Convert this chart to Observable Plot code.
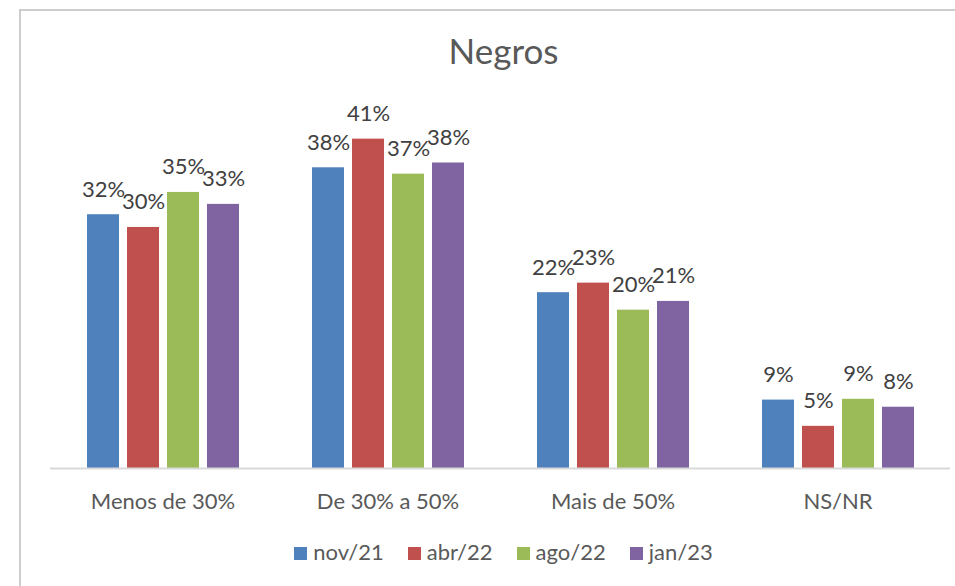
<!DOCTYPE html>
<html><head><meta charset="utf-8">
<script src="https://cdn.jsdelivr.net/npm/d3@7"></script>
<script src="https://cdn.jsdelivr.net/npm/@observablehq/plot@0.6"></script>
<style>
body{margin:0;background:#fff;font-family:Lato,sans-serif;}
#page{position:relative;width:955px;height:586px;overflow:hidden;background:#fff;}
#frame{position:absolute;left:19px;top:9px;width:1000px;height:700px;border:2px solid #cdcdcd;box-sizing:border-box;z-index:5;pointer-events:none;}
#title{position:absolute;left:0;width:1007px;top:33px;text-align:center;font-size:35px;line-height:1;color:#595959;}
#chart{position:absolute;left:0;top:90px;}
#legend{position:absolute;left:0;width:1007px;top:540.5px;display:flex;justify-content:center;gap:24px;font-size:22px;line-height:1;color:#595959;}
#legend .sw{display:inline-block;width:13px;height:13px;margin-right:6px;}
</style>
</head><body>
<div id="page">
  <div id="frame"></div>
  <div id="title">Negros</div>
  <div id="chart"></div>
  <div id="legend"></div>
</div>
<script>
const categories = ["Menos de 30%", "De 30% a 50%", "Mais de 50%", "NS/NR"];
const series = ["nov/21", "abr/22", "ago/22", "jan/23"];
const colors = ["#4F81BD", "#C0504D", "#9BBB59", "#8064A2"];
const nov21 = [31.9, 37.8, 22.1, 8.6];
const abr22 = [30.3, 41.4, 23.3, 5.3];
const ago22 = [34.7, 37.0, 19.9, 8.7];
const jan23 = [33.2, 38.4, 21.0, 7.7];
const seriesValues = [nov21, abr22, ago22, jan23];

const data = [];
categories.forEach((c, i) => {
  series.forEach((s, j) => {
    data.push({cat: c, series: s, value: seriesValues[j][i]});
  });
});

const chart = Plot.plot({
  width: 955,
  height: 428,
  marginLeft: 49,
  marginRight: 4,
  marginTop: 20,
  marginBottom: 50,
  fx: {domain: categories, paddingInner: 0.31, paddingOuter: 0.155, label: null},
  x: {domain: series, paddingInner: 0.2, paddingOuter: 0, axis: null},
  y: {domain: [0, 45], axis: null},
  color: {domain: series, range: colors},
  style: {fontFamily: "Lato, sans-serif", background: "transparent", overflow: "visible"},
  marks: [
    Plot.barY(data, {fx: "cat", x: "series", y: "value", fill: "series"}),
    Plot.ruleY([0], {stroke: "#d9d9d9", strokeWidth: 2, insetLeft: -35, insetRight: -35}),
    Plot.text(data, {fx: "cat", x: "series", y: "value", text: d => Math.round(d.value) + "%", dy: -25, fontSize: 22, fill: "#404040"}),
    Plot.axisFx({anchor: "bottom", tickSize: 0, tickPadding: 24.5, fontSize: 22, color: "#595959", label: null})
  ]
});
document.getElementById("chart").appendChild(chart);

const legend = document.getElementById("legend");
series.forEach((s, j) => {
  const item = document.createElement("span");
  const sw = document.createElement("span");
  sw.className = "sw";
  sw.style.background = colors[j];
  item.appendChild(sw);
  item.appendChild(document.createTextNode(s));
  legend.appendChild(item);
});
</script>
</body></html>
